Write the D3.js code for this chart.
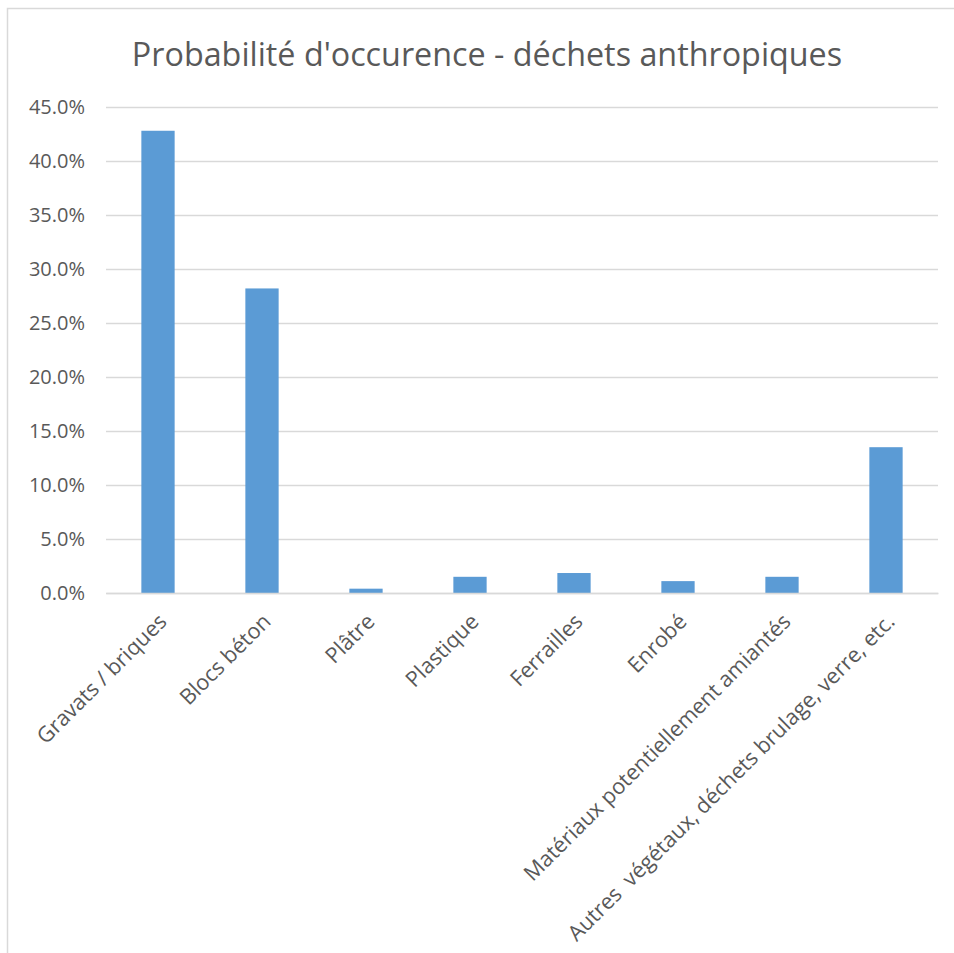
<!DOCTYPE html>
<meta charset="utf-8">
<title>Probabilité d'occurence</title>
<script src="https://d3js.org/d3.v7.min.js"></script>
<style>
  body { margin: 0; background: #fff; }
  text { font-family: "Open Sans", sans-serif; fill: #595959; }
</style>
<div id="chart"></div>
<script>
  // data
  var categories = ["Gravats / briques", "Blocs béton", "Plâtre", "Plastique", "Ferrailles",
    "Enrobé", "Matériaux potentiellement amiantés", "Autres  végétaux, déchets brulage, verre, etc."];
  var values = [0.428, 0.282, 0.004, 0.015, 0.0185, 0.011, 0.015, 0.135];
  var yTicks = [0, 0.05, 0.10, 0.15, 0.20, 0.25, 0.30, 0.35, 0.40, 0.45];
  var title = "Probabilité d'occurence - déchets anthropiques";

  var width = 954, height = 953;
  var margin = { top: 107, right: 16, bottom: 360, left: 106 };

  var svg = d3.select("#chart").append("svg")
    .attr("width", width)
    .attr("height", height);

  // chart area border (only top/left visible in the crop)
  svg.append("rect")
    .attr("x", 7.5).attr("y", 8.5)
    .attr("width", 1000).attr("height", 1000)
    .attr("fill", "none")
    .attr("stroke", "#d9d9d9")
    .attr("stroke-width", 1.5);

  svg.append("text")
    .attr("x", 487)
    .attr("y", 66)
    .attr("text-anchor", "middle")
    .style("font-size", "32.3px")
    .text(title);

  var x = d3.scaleBand()
    .domain(categories)
    .range([margin.left, width - margin.right]);

  var y = d3.scaleLinear()
    .domain([0, 0.45])
    .range([593, margin.top]);

  // gridlines + y labels
  var yAxis = svg.append("g")
    .attr("transform", "translate(" + margin.left + ",0)")
    .call(d3.axisLeft(y).tickValues(yTicks).tickFormat(d3.format(".1%"))
      .tickSize(-(width - margin.right - margin.left)).tickPadding(21));
  yAxis.select(".domain").remove();
  yAxis.selectAll(".tick line").attr("stroke", "#d9d9d9").attr("stroke-width", 1.5);
  yAxis.selectAll(".tick text").style("font-size", "20px").attr("fill", "#595959");

  // bars
  var barW = x.bandwidth() * 0.32;
  svg.append("g").selectAll("rect")
    .data(values)
    .enter().append("rect")
    .attr("x", function (d, i) { return x(categories[i]) + (x.bandwidth() - barW) / 2; })
    .attr("y", function (d) { return y(d); })
    .attr("width", barW)
    .attr("height", function (d) { return y(0) - y(d); })
    .attr("fill", "#5b9bd5");

  // x axis line
  var xAxis = svg.append("g")
    .attr("transform", "translate(0," + y(0) + ")")
    .call(d3.axisBottom(x).tickSize(0).tickPadding(0));
  xAxis.select(".domain").attr("stroke", "#d9d9d9").attr("stroke-width", 1.5);
  xAxis.selectAll(".tick text")
    .style("font-size", "21.6px")
    .style("white-space", "pre")
    .attr("fill", "#595959")
    .attr("text-anchor", "end")
    .attr("dy", null)
    .attr("transform", "translate(10,30) rotate(-45)");
</script>
